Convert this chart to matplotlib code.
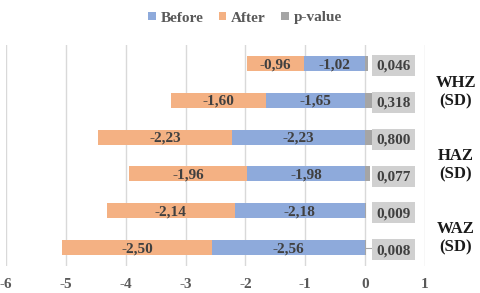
import matplotlib.pyplot as plt
from matplotlib.patches import Rectangle
import numpy as np

plt.rcParams['font.family'] = ['Liberation Serif']
plt.rcParams['font.weight'] = 'bold'

# rows top to bottom
before = [-1.02, -1.65, -2.23, -1.98, -2.18, -2.56]
after = [-0.96, -1.60, -2.23, -1.96, -2.14, -2.50]
pvalue = [0.046, 0.318, 0.800, 0.077, 0.009, 0.008]
grupos = ['WHZ\n(SD)', 'HAZ\n(SD)', 'WAZ\n(SD)']
xticks = [-6, -5, -4, -3, -2, -1, 0, 1]

cor_before = '#8eaadb'
cor_after = '#f4b183'
cor_p = '#a5a5a5'
cinza = '#404040'

fig = plt.figure(figsize=(4.8, 2.93), dpi=100)
ax = fig.add_axes([6 / 480, 1 - 266 / 293, 419 / 480, 221 / 293])

y = np.arange(len(before))
h = 0.41
before = np.array(before)
after = np.array(after)
ax.barh(y, before, height=h, color=cor_before, label='Before', zorder=2)
ax.barh(y, after, left=before, height=h, color=cor_after, label='After', zorder=2)
ax.barh(y, pvalue, height=h, color=cor_p, label='p-value', zorder=2)

def fmt(v, n=2):
    return ('%.*f' % (n, v)).replace('.', ',')

for i in range(len(y)):
    ax.text(before[i] / 2, y[i] + 0.03, fmt(before[i]), ha='center', va='center',
            fontsize=11, color=cinza, zorder=4)
    ax.text(before[i] + after[i] / 2, y[i] + 0.03, fmt(after[i]), ha='center', va='center',
            fontsize=11, color=cinza, zorder=4)
    ax.add_patch(Rectangle((0.12, y[i] + 0.06 - 0.285), 0.71, 0.57,
                           fc='#d0d0d0', ec='none', zorder=4))
    ax.text(0.475, y[i] + 0.08, fmt(pvalue[i], 3), ha='center', va='center',
            fontsize=11, color=cinza, zorder=5)

# leader line on the last row
ax.plot([pvalue[-1], 0.12], [y[-1], y[-1]], color='#a6a6a6', lw=0.8, zorder=3)

for k, g in enumerate(grupos):
    ax.text(456 / 480, 1 - (84 + 73 * k + 8) / 293, g, transform=fig.transFigure,
            ha='center', va='center', fontsize=12, color='#1a1a1a', linespacing=1.15)

ax.set_xlim(-6, 1)
ax.set_ylim(5.5, -0.5)
ax.set_xticks(xticks)
ax.set_xticklabels([str(t) for t in xticks], fontsize=11, color='#595959')
ax.set_yticks([])
ax.tick_params(axis='x', length=0, pad=9)
ax.grid(axis='x', color='#d9d9d9', lw=1, zorder=0)
for s in ax.spines.values():
    s.set_visible(False)

fig.legend(loc='center', bbox_to_anchor=(245 / 480, 1 - 18 / 293), ncol=3,
           frameon=False, fontsize=11, handlelength=0.5, handleheight=0.5,
           handletextpad=0.3, columnspacing=1.0, labelcolor='#595959')

fig.savefig('out.png', dpi=100)
